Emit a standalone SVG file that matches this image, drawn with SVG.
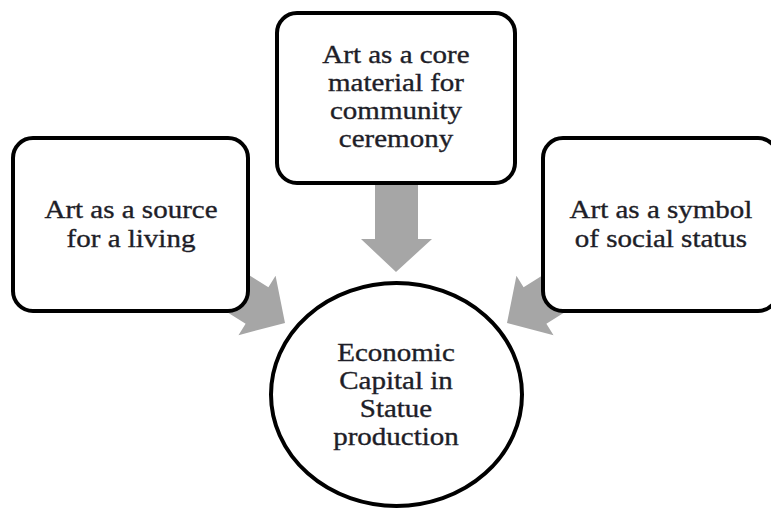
<svg xmlns="http://www.w3.org/2000/svg" width="771" height="508" viewBox="0 0 771 508">
<style>
.box{fill:#fff;stroke:#000;stroke-width:4}
.arrow{fill:#a6a6a6;stroke:none}
.t{font-family:"Liberation Serif","Times New Roman",serif;font-size:25px;fill:#1e1e28;stroke:#1e1e28;stroke-width:0.35;text-anchor:middle}
</style>
<defs>
<polygon id="arr" points="-80,-21.5 -33,-21.5 -33,-35 0,0 -33,35 -33,21.5 -80,21.5"/>
</defs>
<rect width="771" height="508" fill="#fff"/>
<g id="connectors">
<polygon class="arrow" points="375,180 418,180 418,239 432,239 396,272 361,239 375,239"/>
<use href="#arr" class="arrow" transform="translate(285,323) rotate(32)"/>
<use href="#arr" class="arrow" transform="translate(792,0) scale(-1,1) translate(285,323) rotate(32)"/>
</g>
<g id="top">
<rect class="box" x="277" y="13" width="238" height="170" rx="20"/>
<g transform="translate(396,0) scale(1.16,1)">
<text class="t" x="0" y="63">Art as a core</text>
<text class="t" x="0" y="91">material for</text>
<text class="t" x="0" y="119">community</text>
<text class="t" x="0" y="147">ceremony</text>
</g>
</g>
<g id="left">
<rect class="box" x="13" y="138" width="235" height="173" rx="20"/>
<g transform="translate(131,0) scale(1.16,1)">
<text class="t" x="0" y="218">Art as a source</text>
<text class="t" x="0" y="247">for a living</text>
</g>
</g>
<g id="right">
<rect class="box" x="543" y="138" width="235" height="173" rx="20"/>
<g transform="translate(661,0) scale(1.16,1)">
<text class="t" x="0" y="218">Art as a symbol</text>
<text class="t" x="0" y="247">of social status</text>
</g>
</g>
<g id="center">
<ellipse class="box" cx="396.5" cy="394.5" rx="125.5" ry="111.5"/>
<g transform="translate(396,0) scale(1.16,1)">
<text class="t" x="0" y="361">Economic</text>
<text class="t" x="0" y="389">Capital in</text>
<text class="t" x="0" y="417">Statue</text>
<text class="t" x="0" y="445">production</text>
</g>
</g>
</svg>
